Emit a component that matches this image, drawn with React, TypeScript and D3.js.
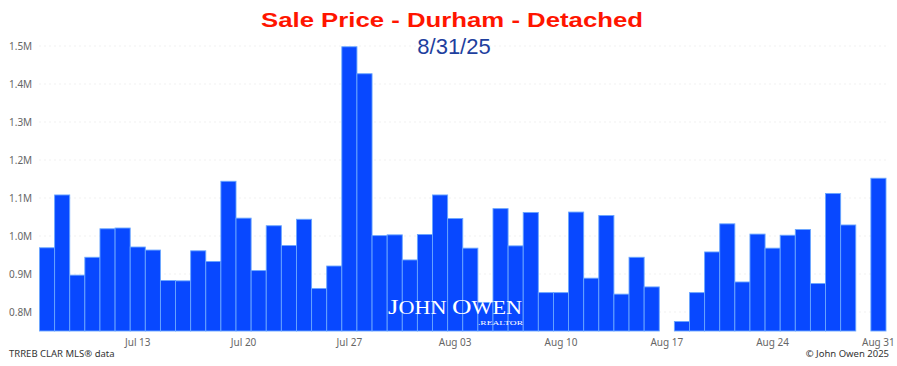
import React, { useEffect, useRef } from 'react'
import { select, scaleTime, scaleLinear, timeWeek, timeFormat, timeParse } from 'd3'

// one bar per day, null = no sale that day
const dates = [
  '2025-07-07', '2025-07-08', '2025-07-09', '2025-07-10', '2025-07-11', '2025-07-12', '2025-07-13',
  '2025-07-14', '2025-07-15', '2025-07-16', '2025-07-17', '2025-07-18', '2025-07-19', '2025-07-20',
  '2025-07-21', '2025-07-22', '2025-07-23', '2025-07-24', '2025-07-25', '2025-07-26', '2025-07-27',
  '2025-07-28', '2025-07-29', '2025-07-30', '2025-07-31', '2025-08-01', '2025-08-02', '2025-08-03',
  '2025-08-04', '2025-08-05', '2025-08-06', '2025-08-07', '2025-08-08', '2025-08-09', '2025-08-10',
  '2025-08-11', '2025-08-12', '2025-08-13', '2025-08-14', '2025-08-15', '2025-08-16', '2025-08-17',
  '2025-08-18', '2025-08-19', '2025-08-20', '2025-08-21', '2025-08-22', '2025-08-23', '2025-08-24',
  '2025-08-25', '2025-08-26', '2025-08-27', '2025-08-28', '2025-08-29', '2025-08-30', '2025-08-31',
]

// sale price, millions
const prices = [
  0.969, 1.108, 0.897, 0.944, 1.019, 1.021, 0.971,
  0.963, 0.883, 0.882, 0.961, 0.933, 1.144, 1.047,
  0.909, 1.027, 0.975, 1.044, 0.862, 0.921, 1.498,
  1.427, 1.001, 1.003, 0.937, 1.004, 1.108, 1.046,
  0.968, 0.825, 1.072, 0.974, 1.062, 0.851, 0.851,
  1.063, 0.889, 1.054, 0.847, 0.944, 0.866, null,
  0.775, 0.851, 0.958, 1.032, 0.879, 1.005, 0.968,
  1.002, 1.017, 0.875, 1.112, 1.029, null, 1.152,
]

const yTicks = [0.8, 0.9, 1.0, 1.1, 1.2, 1.3, 1.4, 1.5]

const title = 'Sale Price - Durham - Detached'
const subtitle = '8/31/25'
const source = 'TRREB CLAR MLS® data'
const credit = '© John Owen 2025'

const W = 897
const H = 366
const plot = { left: 39.5, right: 886, top: 46, bottom: 331 }
const tickFont = '"Segoe UI", "Noto Sans", sans-serif'
const serif = '"Liberation Serif", "DejaVu Serif", serif'

function App() {
  const svgRef = useRef<SVGSVGElement>(null)

  useEffect(() => {
    const svg = select(svgRef.current)
    const parse = timeParse('%Y-%m-%d')
    const days = dates.map(d => parse(d) as Date)
    const half = 12 * 3600 * 1000

    const x = scaleTime()
      .domain([+days[0] - half, +days[days.length - 1] + half])
      .range([plot.left, plot.right])
    const y = scaleLinear()
      .domain([0.75, 1.5])
      .range([plot.bottom, plot.top])

    // dotted grid
    svg.select('.grid')
      .selectAll('line')
      .data(yTicks)
      .join('line')
      .attr('x1', plot.left)
      .attr('x2', plot.right)
      .attr('y1', d => y(d))
      .attr('y2', d => y(d))
      .attr('stroke', '#e2e2e2')
      .attr('stroke-dasharray', '1 4')

    svg.select('.y-axis')
      .selectAll('text')
      .data(yTicks)
      .join('text')
      .attr('x', 9)
      .attr('y', d => y(d))
      .attr('dy', '0.35em')
      .attr('fill', '#666')
      .attr('font-size', 10)
      .attr('font-family', tickFont)
      .text(d => d.toFixed(1) + 'M')

    const fmt = timeFormat('%b %d')
    const xTicks = x.ticks(timeWeek.every(1)!).filter(d => +d >= +days[0])
    svg.select('.x-axis')
      .selectAll('text')
      .data(xTicks)
      .join('text')
      .attr('x', d => x(d))
      .attr('y', 342)
      .attr('dy', '0.35em')
      .attr('text-anchor', 'middle')
      .attr('fill', '#666')
      .attr('font-size', 10)
      .attr('font-family', tickFont)
      .text(d => fmt(d))

    const bars = days
      .map((d, i) => ({ d, v: prices[i] }))
      .filter(b => b.v !== null) as { d: Date; v: number }[]

    svg.select('.bars')
      .selectAll('rect')
      .data(bars)
      .join('rect')
      .attr('x', b => x(+b.d - half))
      .attr('width', b => x(+b.d + half) - x(+b.d - half))
      .attr('y', b => y(b.v))
      .attr('height', b => plot.bottom - y(b.v))
      .attr('fill', '#0848ff')
      .attr('stroke', '#6aa6ff')
      .attr('stroke-width', 0.9)
  }, [])

  return (
    <svg
      ref={svgRef}
      width={W}
      height={H}
      style={{ position: 'absolute', left: 0, top: 0, background: '#fff' }}
    >
      <g className='grid' />
      <g className='bars' />
      <g className='y-axis' />
      <g className='x-axis' />

      {/* watermark over the bars */}
      <text x={388} y={314} fill='#fff' fontFamily={serif}
        textLength={134} lengthAdjust='spacingAndGlyphs'>
        <tspan fontSize={22}>J</tspan>
        <tspan fontSize={18}>OHN </tspan>
        <tspan fontSize={22}>O</tspan>
        <tspan fontSize={18}>WEN</tspan>
      </text>
      <text x={523} y={325} textAnchor='end' fill='#fff' fontSize={7} fontFamily={serif}
        textLength={45} lengthAdjust='spacingAndGlyphs'>
        .REALTOR
      </text>

      <text x={452} y={27} textAnchor='middle' fill='#ff1500' fontWeight='bold'
        fontSize={21} fontFamily='"Liberation Sans", Arial, sans-serif'
        textLength={382} lengthAdjust='spacingAndGlyphs'>
        {title}
      </text>
      <text x={454} y={54} textAnchor='middle' fill='#1e3f9e' fontSize={22}
        fontFamily='"Liberation Sans", Arial, sans-serif'>
        {subtitle}
      </text>

      <text x={9} y={357} fill='#333' fontSize={9.5} fontFamily={tickFont}>{source}</text>
      <text x={889} y={357} textAnchor='end' fill='#333' fontSize={9.5} fontFamily={tickFont}>{credit}</text>
    </svg>
  )
}

export default App
